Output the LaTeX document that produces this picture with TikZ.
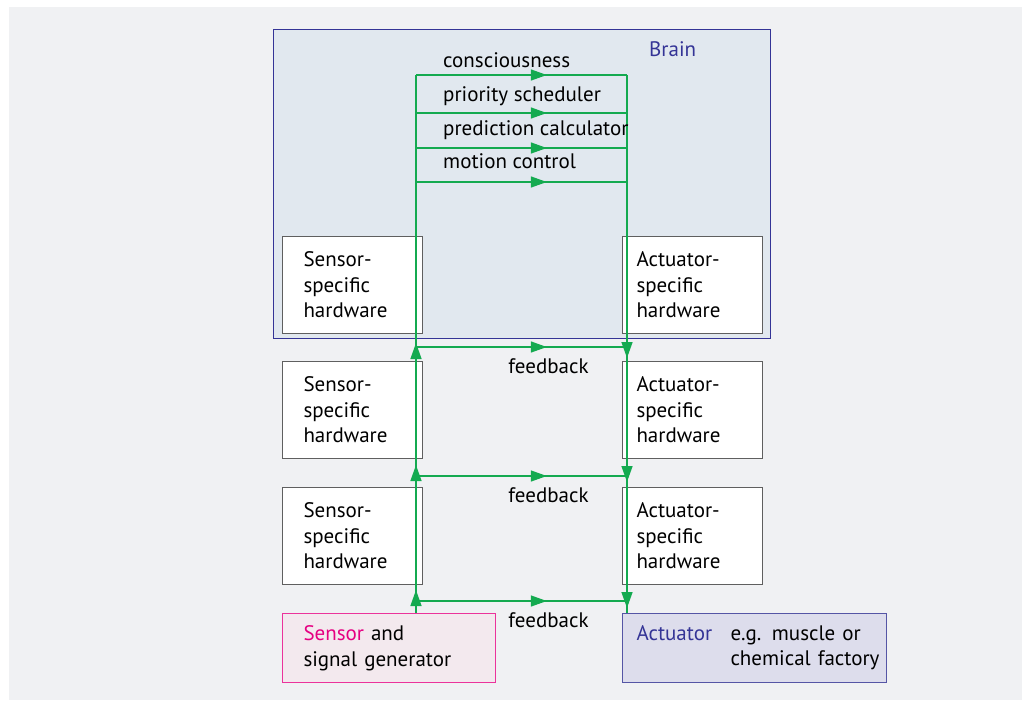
\documentclass[tikz,border=0pt]{standalone}
\usepackage{fontspec}
\setmainfont{PT Sans}
\usepackage{xcolor}
\usetikzlibrary{arrows.meta,positioning,calc,decorations.markings}

\definecolor{panelgray}{RGB}{240,241,243}
\definecolor{brainfill}{RGB}{225,232,239}
\definecolor{brainblue}{RGB}{52,52,150}
\definecolor{flowgreen}{RGB}{20,170,80}
\definecolor{boxgray}{RGB}{95,95,95}
\definecolor{sensmag}{RGB}{230,0,130}
\definecolor{sensfill}{RGB}{243,233,238}
\definecolor{actfill}{RGB}{221,221,236}
\definecolor{actline}{RGB}{85,85,165}

\begin{document}
\begin{tikzpicture}[x=1pt,y=-1pt,
  every node/.style={font=\fontsize{21}{25.5}\selectfont},
  flow/.style={flowgreen, line width=1.4pt},
  tip/.style={-{Triangle[length=16pt,width=11pt]}},
  midarrow/.style={postaction={decorate},
    decoration={markings,mark=at position 0.62 with {\arrow{Triangle[length=16pt,width=11pt]}}}},
  hwbox/.style={draw=boxgray, fill=white, line width=1pt, minimum width=140pt,
    minimum height=97pt, align=left, inner ysep=0pt},
  senshw/.style={hwbox, inner xsep=21pt, text width=98pt},
  acthw/.style={hwbox, inner xsep=14pt, text width=112pt},
  brainbox/.style={draw=brainblue, fill=brainfill, line width=1pt},
  sensbox/.style={draw=sensmag!80, fill=sensfill, line width=1pt, align=left, inner ysep=0pt},
  actbox/.style={draw=actline, fill=actfill, line width=1pt, align=left, inner ysep=0pt}]
  \useasboundingbox (0,0) rectangle (1029,702);
  \fill[white] (0,0) rectangle (1029,702);
  \fill[panelgray] (9,7) rectangle (1022,700);

  \node[brainbox, minimum width=497pt, minimum height=309pt, anchor=north west] (brain) at (273,29) {};
  \node[brainblue, anchor=base west, inner sep=0pt] (brainlbl) at (649,56.7) {Brain};

  \foreach \i/\y in {1/236,2/361,3/487} {
    \node[senshw, anchor=north west] (s\i) at (282,\y) {Sensor-\\specific\\hardware};
    \node[acthw, anchor=north west] (a\i) at (622,\y) {Actuator-\\specific\\hardware};
  }

  \node[sensbox, anchor=north west, minimum width=213pt, minimum height=69pt,
    inner xsep=21pt, text width=171pt] (sen) at (282,613)
    {\textcolor{sensmag}{Sensor} and\\signal generator};
  \node[actbox, anchor=north west, minimum width=264pt, minimum height=69pt,
    inner xsep=14pt, text width=236pt] (act) at (622,613)
    {\makebox[94pt][l]{\textcolor{brainblue}{Actuator}}\begin{tabular}[t]{@{}l@{}}e.g. muscle or\\chemical factory\end{tabular}};

  \coordinate (ltop) at (416,75);
  \coordinate (rtop) at (627,75);
  \draw[flow] (sen.north -| ltop) -- (ltop);
  \draw[flow] (rtop) -- (act.north -| rtop);

  \foreach \i/\y in {1/75,2/113,3/148,4/182} {
    \coordinate (bl\i) at (416,\y);
    \coordinate (br\i) at (627,\y);
    \draw[flow, midarrow] (bl\i) -- (br\i);
  }
  \node[anchor=base west, inner sep=0pt] (consc) at (443,67.5) {consciousness};
  \node[anchor=base west, inner sep=0pt] (sched) at (443,101.5) {priority scheduler};
  \node[anchor=base west, inner sep=0pt] (pred) at (443,135) {prediction calculator};
  \node[anchor=base west, inner sep=0pt] (motion) at (443,168.3) {motion control};

  \foreach \i/\y/\u/\d in {1/347/4/11,2/476/11/6,3/601/11/7} {
    \coordinate (fl\i) at (416,\y);
    \coordinate (fr\i) at (627,\y);
    \draw[flow, midarrow] (fl\i) -- (fr\i);
    \draw[flow, tip] ($(fl\i)+(0,16-\u)$) -- ($(fl\i)+(0,-\u)$);
    \draw[flow, tip] ($(fr\i)+(0,\d-16)$) -- ($(fr\i)+(0,\d)$);
    \node[anchor=base, inner sep=0pt] (fb\i) at ($(fl\i)!0.628!(fr\i)+(0,26.5)$) {feedback};
  }
\end{tikzpicture}
\end{document}
